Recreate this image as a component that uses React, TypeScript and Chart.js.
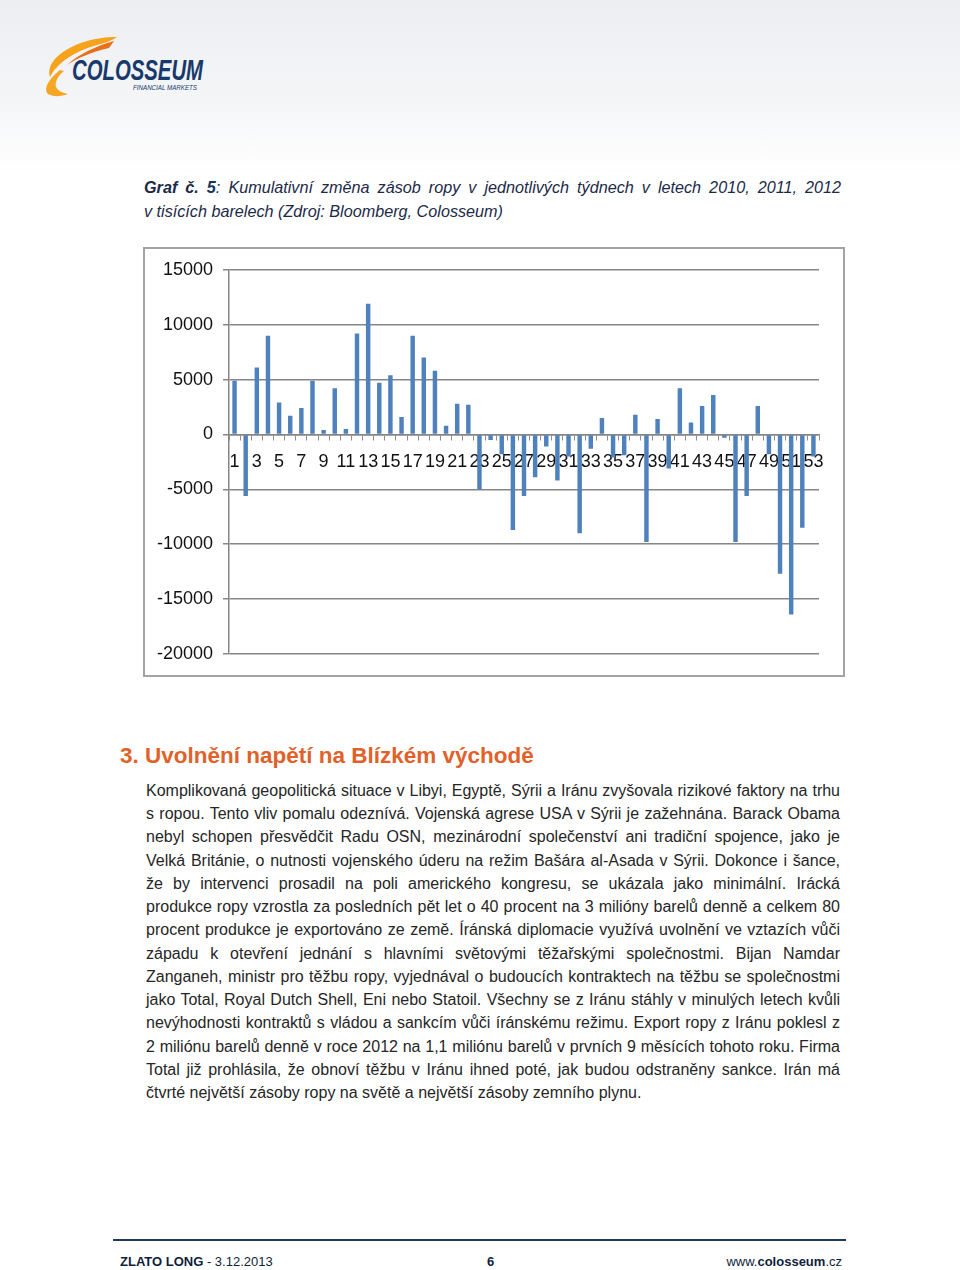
import React, { useEffect, useRef } from 'react';
import { Chart, registerables } from 'chart.js';

Chart.register(...registerables);

const weeks = [
  '1', '2', '3', '4', '5', '6', '7', '8', '9', '10',
  '11', '12', '13', '14', '15', '16', '17', '18', '19', '20',
  '21', '22', '23', '24', '25', '26', '27', '28', '29', '30',
  '31', '32', '33', '34', '35', '36', '37', '38', '39', '40',
  '41', '42', '43', '44', '45', '46', '47', '48', '49', '50',
  '51', '52', '53',
];

const cumulativeChange = [
  4900, -5600, 6100, 9000, 2900, 1700, 2400, 4900, 400, 4200,
  500, 9200, 11900, 4700, 5400, 1600, 9000, 7000, 5800, 800,
  2800, 2700, -5000, -500, -1800, -8700, -5600, -3900, -1100, -4200,
  -2000, -9000, -1300, 1500, -2100, -1900, 1800, -9800, 1400, -3100,
  4200, 1100, 2600, 3600, -300, -9800, -5600, 2600, -1800, -12700,
  -16400, -8500, -2000,
];

const yTicks = [15000, 10000, 5000, 0, -5000, -10000, -15000, -20000];

const captionLines = [
  'Kumulativní změna zásob ropy v jednotlivých týdnech v letech 2010, 2011, 2012',
  'v tisících barelech (Zdroj: Bloomberg, Colosseum)',
];

const heading = '3. Uvolnění napětí na Blízkém východě';

const bodyLines = [
  'Komplikovaná geopolitická situace v Libyi, Egyptě, Sýrii a Iránu zvyšovala rizikové faktory na trhu',
  's ropou. Tento vliv pomalu odeznívá. Vojenská agrese USA v Sýrii je zažehnána. Barack Obama',
  'nebyl schopen přesvědčit Radu OSN, mezinárodní společenství ani tradiční spojence, jako je',
  'Velká Británie, o nutnosti vojenského úderu na režim Bašára al-Asada v Sýrii. Dokonce i šance,',
  'že by intervenci prosadil na poli amerického kongresu, se ukázala jako minimální. Irácká',
  'produkce ropy vzrostla za posledních pět let o 40 procent na 3 milióny barelů denně a celkem 80',
  'procent produkce je exportováno ze země. Íránská diplomacie využívá uvolnění ve vztazích vůči',
  'západu k otevření jednání s hlavními světovými těžařskými společnostmi. Bijan Namdar',
  'Zanganeh, ministr pro těžbu ropy, vyjednával o budoucích kontraktech na těžbu se společnostmi',
  'jako Total, Royal Dutch Shell, Eni nebo Statoil. Všechny se z Iránu stáhly v minulých letech kvůli',
  'nevýhodnosti kontraktů s vládou a sankcím vůči íránskému režimu. Export ropy z Iránu poklesl z',
  '2 miliónu barelů denně v roce 2012 na 1,1 miliónu barelů v prvních 9 měsících tohoto roku. Firma',
  'Total již prohlásila, že obnoví těžbu v Iránu ihned poté, jak budou odstraněny sankce. Irán má',
  'čtvrté největší zásoby ropy na světě a největší zásoby zemního plynu.',
];

const FONT = '"Liberation Sans", Arial, sans-serif';

function BarChart() {
  const ref = useRef<HTMLCanvasElement | null>(null);
  useEffect(() => {
    if (!ref.current) return;
    const tickFont = { family: FONT, size: 18 };
    const chart = new Chart(ref.current, {
      type: 'bar',
      data: {
        labels: weeks,
        datasets: [
          {
            data: cumulativeChange,
            backgroundColor: '#4f81bd',
            barPercentage: 0.4,
            categoryPercentage: 1,
          },
        ],
      },
      options: {
        animation: false,
        responsive: false,
        maintainAspectRatio: false,
        layout: { padding: { left: 0, right: 24, top: 19, bottom: 21 } },
        plugins: { legend: { display: false }, tooltip: { enabled: false } },
        scales: {
          x: {
            position: { y: 0 } as any,
            grid: {
              display: true,
              drawOnChartArea: false,
              drawTicks: true,
              tickLength: 5,
              color: '#8c8c8c',
              offset: true,
            },
            border: { display: true, color: '#868686', width: 1.5 },
            ticks: {
              autoSkip: false,
              maxRotation: 0,
              minRotation: 0,
              padding: 12,
              color: '#111111',
              font: tickFont,
              callback: (_v: any, i: number) => (i % 2 === 0 ? weeks[i] : ''),
            },
          },
          y: {
            min: -20000,
            max: 15000,
            afterBuildTicks: (s: any) => {
              s.ticks = yTicks.map((v) => ({ value: v }));
            },
            afterFit: (s: any) => {
              s.width = 84;
            },
            grid: { color: '#868686', lineWidth: 1.5, tickLength: 6 },
            border: { display: true, color: '#868686', width: 1.5 },
            ticks: {
              padding: 10,
              color: '#111111',
              font: tickFont,
              callback: (v: any) => String(v),
            },
          },
        },
      },
    });
    return () => chart.destroy();
  }, []);
  return (
    <canvas
      ref={ref}
      width={698}
      height={426}
      style={{ position: 'absolute', left: 145, top: 249, width: 698, height: 426 }}
    />
  );
}

function Logo() {
  return (
    <svg width={220} height={110} style={{ position: 'absolute', left: 0, top: 0 }}>
      <path
        d="M117,37 C92,37 68,45 55,59 C50,65 48,71 50,77 C57,63 75,51 97,45 C105,43 111,41 117,37 Z"
        fill="#f7a21b"
      />
      <path d="M114,41 C96,46 79,54 67,65 C77,58 92,52 109,48 Z" fill="#e8701a" />
      <path
        d="M60,70 C49,79 44,87 47,93 C51,97 60,97 68,94 C59,92 54,88 56,82 C57,78 60,74 64,71 Z"
        fill="#f5a623"
      />
      <text
        x={72}
        y={80}
        fontFamily={FONT}
        fontWeight="bold"
        fontStyle="italic"
        fontSize={29}
        fill="#17396b"
        textLength={131}
        lengthAdjust="spacingAndGlyphs"
      >
        COLOSSEUM
      </text>
      <text
        x={133}
        y={90}
        fontFamily={FONT}
        fontStyle="italic"
        fontSize={8}
        fill="#17396b"
        textLength={64}
        lengthAdjust="spacingAndGlyphs"
      >
        FINANCIAL MARKETS
      </text>
    </svg>
  );
}

export default function App() {
  const bodyFont = 16;
  const bodyLH = 23.23;
  const capFont = 16.2;
  const capLH = 23.5;
  return (
    <div
      style={{
        position: 'absolute',
        left: 0,
        top: 0,
        width: 960,
        height: 1270,
        background: '#ffffff',
        overflow: 'hidden',
        fontFamily: FONT,
      }}
    >
      <div
        style={{
          position: 'absolute',
          left: 0,
          top: 0,
          width: 960,
          height: 175,
          background: 'linear-gradient(#eceef2, #f4f5f7 55%, #ffffff)',
        }}
      />
      <Logo />

      <div
        style={{
          position: 'absolute',
          left: 144,
          top: 176,
          width: 697,
          fontSize: capFont,
          lineHeight: capLH + 'px',
          fontStyle: 'italic',
          color: '#1c2a48',
        }}
      >
        <div style={{ whiteSpace: 'nowrap', textAlign: 'justify', textAlignLast: 'justify' }}>
          <b>Graf č. </b>
          <b style={{ color: '#17365d' }}>5</b>: {captionLines[0]}
        </div>
        <div style={{ whiteSpace: 'nowrap' }}>{captionLines[1]}</div>
      </div>

      <div
        style={{
          position: 'absolute',
          left: 143,
          top: 247,
          width: 702,
          height: 430,
          boxSizing: 'border-box',
          border: '2px solid #a3a3a3',
          background: '#ffffff',
        }}
      />
      <BarChart />

      <div
        style={{
          position: 'absolute',
          left: 120,
          top: 742.2,
          fontSize: 22.5,
          lineHeight: '27px',
          fontWeight: 'bold',
          color: '#e0622a',
          whiteSpace: 'nowrap',
        }}
      >
        {heading}
      </div>

      <div
        style={{
          position: 'absolute',
          left: 146,
          top: 779,
          width: 694,
          fontSize: bodyFont,
          lineHeight: bodyLH + 'px',
          color: '#262626',
        }}
      >
        {bodyLines.map((line, i) => (
          <div
            key={i}
            style={{
              whiteSpace: 'nowrap',
              textAlign: i < bodyLines.length - 1 ? 'justify' : 'left',
              textAlignLast: i < bodyLines.length - 1 ? 'justify' : 'left',
            }}
          >
            {line}
          </div>
        ))}
      </div>

      <div
        style={{
          position: 'absolute',
          left: 113,
          top: 1239,
          width: 733,
          height: 2,
          background: '#1f3a5f',
        }}
      />
      <div
        style={{
          position: 'absolute',
          left: 120,
          top: 1253.5,
          fontSize: 13,
          lineHeight: '16px',
          color: '#0f1f3d',
          whiteSpace: 'nowrap',
        }}
      >
        <b>ZLATO LONG</b> - 3.12.2013
      </div>
      <div
        style={{
          position: 'absolute',
          left: 487,
          top: 1253.5,
          fontSize: 13,
          lineHeight: '16px',
          color: '#0f1f3d',
          fontWeight: 'bold',
        }}
      >
        6
      </div>
      <div
        style={{
          position: 'absolute',
          right: 960 - 842,
          top: 1253.5,
          fontSize: 13,
          lineHeight: '16px',
          color: '#0f1f3d',
          whiteSpace: 'nowrap',
        }}
      >
        www.<b>colosseum</b>.cz
      </div>
    </div>
  );
}
